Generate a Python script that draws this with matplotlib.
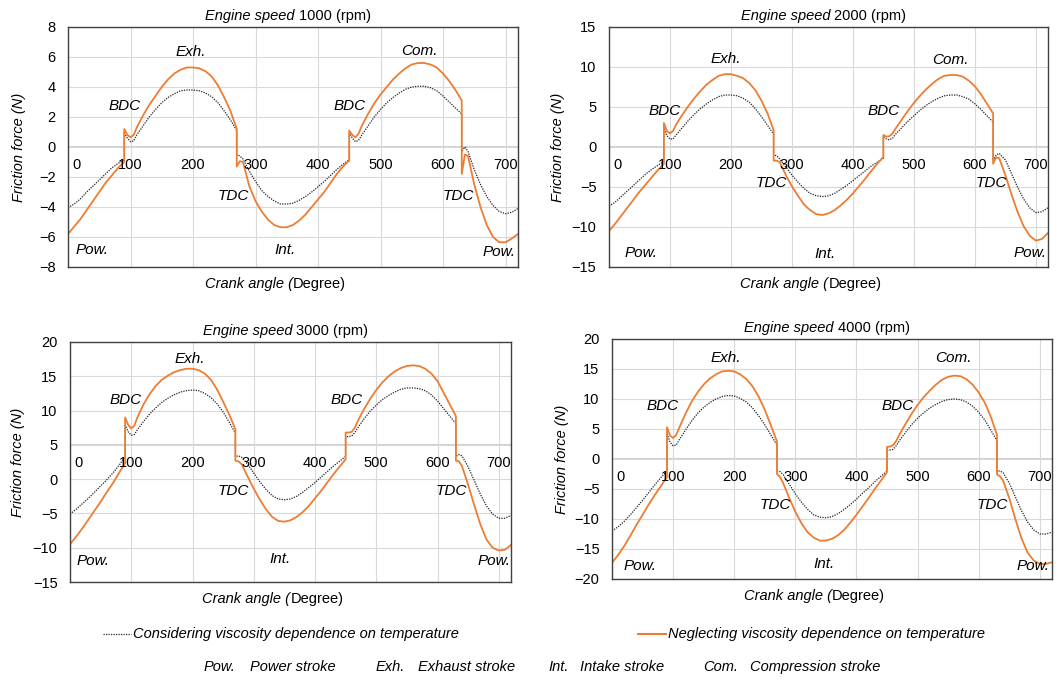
import matplotlib
matplotlib.use("Agg")
import matplotlib.pyplot as plt
from matplotlib.lines import Line2D
from matplotlib.transforms import blended_transform_factory

plt.rcParams['font.family'] = ['Liberation Sans', 'DejaVu Sans']

# crank angle (deg) - repeated angles are the jumps at BDC / TDC
angle = [0, 10, 20, 30, 40, 50, 60, 70, 80, 90,
         90, 95, 100, 105, 110, 120, 130, 140, 150, 160, 170, 180, 190, 200, 210, 220, 230, 240, 250, 260, 270,
         270, 275, 280, 290, 300, 310, 320, 330, 340, 350, 360, 370, 380, 390, 400, 410, 420, 430, 440, 450,
         450, 455, 460, 465, 470, 480, 490, 500, 510, 520, 530, 540, 550, 560, 570, 580, 590, 600, 610, 620, 630,
         630, 635, 640, 650, 660, 670, 680, 690, 700, 710, 720]

# Neglecting viscosity dependence on temperature (N)
neg_1000 = [-5.8, -5.3, -4.8, -4.2, -3.6, -3.0, -2.4, -1.9, -1.4, -1.0,
            1.2, 0.8, 0.65, 0.8, 1.3, 2.1, 2.8, 3.4, 4.0, 4.5, 4.9, 5.15, 5.3, 5.3, 5.25, 5.05, 4.7, 4.1, 3.3, 2.4, 1.2,
            -1.3, -0.95, -1.0, -2.6, -3.6, -4.3, -4.85, -5.2, -5.35, -5.35, -5.2, -4.9, -4.5, -4.0, -3.5, -3.0, -2.4, -1.8, -1.3, -0.9,
            1.1, 0.8, 0.65, 0.9, 1.4, 2.2, 2.9, 3.5, 4.0, 4.5, 4.9, 5.25, 5.5, 5.6, 5.6, 5.5, 5.3, 4.9, 4.4, 3.8, 3.1,
            -1.8, -0.5, -0.6, -2.5, -4.0, -5.2, -6.0, -6.35, -6.35, -6.1, -5.8]
neg_2000 = [-10.5, -9.6, -8.6, -7.6, -6.6, -5.6, -4.7, -3.8, -2.9, -2.1,
            3.0, 2.0, 1.7, 2.0, 2.8, 4.0, 5.1, 6.1, 7.0, 7.8, 8.4, 8.9, 9.1, 9.1, 8.9, 8.6, 8.0, 7.1, 5.8, 4.2, 2.1,
            -1.7, -1.7, -1.9, -3.5, -4.9, -6.1, -7.2, -7.9, -8.4, -8.5, -8.3, -7.9, -7.3, -6.6, -5.8, -4.9, -4.0, -3.0, -2.1, -1.25,
            1.5, 1.3, 1.35, 1.7, 2.3, 3.4, 4.5, 5.5, 6.4, 7.2, 7.9, 8.5, 8.9, 9.0, 9.0, 8.8, 8.3, 7.6, 6.6, 5.4, 4.2,
            -2.1, -1.3, -1.4, -3.5, -5.9, -8.1, -9.9, -11.1, -11.7, -11.5, -10.75]
neg_3000 = [-9.5, -8.4, -7.2, -5.9, -4.6, -3.3, -1.9, -0.6, 0.9, 2.3,
            9.0, 7.9, 7.4, 7.8, 9.0, 10.9, 12.4, 13.6, 14.5, 15.1, 15.6, 15.9, 16.1, 16.1, 15.9, 15.4, 14.5, 13.1, 11.3, 9.4, 7.3,
            2.7, 2.6, 2.2, 0.4, -1.4, -3.0, -4.4, -5.5, -6.1, -6.2, -6.0, -5.5, -4.8, -3.9, -2.8, -1.7, -0.5, 0.7, 1.8, 2.9,
            6.8, 6.8, 6.9, 7.5, 8.5, 10.2, 11.7, 13.0, 14.1, 15.0, 15.7, 16.2, 16.5, 16.6, 16.5, 16.1, 15.4, 14.3, 12.6, 10.9, 9.2,
            2.7, 2.6, 1.9, -0.8, -3.8, -6.6, -8.8, -10.0, -10.4, -10.3, -9.6]
neg_4000 = [-17.3, -16.0, -14.5, -12.8, -11.0, -9.3, -7.6, -6.0, -4.5, -3.0,
            5.3, 3.9, 3.5, 4.0, 5.2, 7.5, 9.5, 11.1, 12.4, 13.4, 14.1, 14.6, 14.7, 14.6, 14.1, 13.3, 12.1, 10.4, 8.2, 5.6, 2.9,
            -2.5, -3.0, -4.0, -6.5, -8.8, -10.7, -12.2, -13.1, -13.6, -13.6, -13.3, -12.7, -11.8, -10.6, -9.3, -7.9, -6.5, -5.0, -3.6, -2.2,
            2.0, 2.1, 2.3, 3.0, 4.0, 5.8, 7.5, 9.0, 10.3, 11.4, 12.4, 13.2, 13.7, 13.9, 13.8, 13.3, 12.4, 11.1, 9.4, 7.0, 4.0,
            -2.6, -2.9, -3.6, -6.5, -10.0, -13.2, -15.6, -16.9, -17.5, -17.5, -17.2]

# Considering viscosity dependence on temperature (N)
con_1000 = [-4.05, -3.8, -3.45, -3.0, -2.6, -2.2, -1.8, -1.4, -1.1, -0.85,
            0.9, 0.6, 0.35, 0.4, 0.8, 1.4, 2.0, 2.5, 2.95, 3.3, 3.55, 3.75, 3.8, 3.8, 3.75, 3.6, 3.35, 2.95, 2.4, 1.8, 1.1,
            -0.5, -0.6, -0.8, -1.6, -2.3, -2.9, -3.3, -3.6, -3.8, -3.8, -3.75, -3.55, -3.3, -3.0, -2.65, -2.3, -1.9, -1.5, -1.15, -0.85,
            0.9, 0.6, 0.35, 0.45, 0.8, 1.4, 2.0, 2.5, 2.95, 3.3, 3.6, 3.85, 4.0, 4.05, 4.05, 3.95, 3.75, 3.4, 3.0, 2.6, 2.2,
            -0.3, 0.0, -0.3, -1.5, -2.5, -3.3, -3.9, -4.3, -4.45, -4.35, -4.1]
con_2000 = [-7.4, -6.9, -6.2, -5.5, -4.8, -4.1, -3.4, -2.8, -2.3, -1.8,
            2.5, 1.4, 1.0, 1.0, 1.5, 2.4, 3.3, 4.1, 4.8, 5.4, 5.9, 6.3, 6.5, 6.5, 6.4, 6.1, 5.6, 4.8, 3.8, 2.7, 1.6,
            -1.0, -1.1, -1.5, -2.5, -3.5, -4.4, -5.2, -5.8, -6.1, -6.2, -6.1, -5.8, -5.3, -4.8, -4.2, -3.6, -3.0, -2.4, -1.9, -1.4,
            1.3, 1.0, 0.9, 1.1, 1.6, 2.4, 3.2, 3.9, 4.6, 5.2, 5.7, 6.1, 6.4, 6.5, 6.5, 6.3, 6.0, 5.4, 4.7, 3.9, 3.1,
            -1.7, -1.0, -0.8, -1.6, -3.3, -5.0, -6.5, -7.6, -8.2, -8.1, -7.6]
con_3000 = [-5.1, -4.4, -3.6, -2.8, -1.9, -1.0, -0.1, 0.9, 2.0, 3.3,
            8.0, 6.9, 6.4, 6.5, 7.2, 8.4, 9.5, 10.4, 11.2, 11.8, 12.3, 12.7, 12.9, 13.0, 12.9, 12.5, 11.9, 11.0, 9.8, 8.3, 6.7,
            3.3, 3.4, 3.2, 2.2, 0.9, -0.4, -1.5, -2.4, -2.9, -3.0, -2.9, -2.5, -1.9, -1.2, -0.5, 0.3, 1.1, 1.9, 2.6, 3.3,
            6.2, 6.2, 6.3, 6.8, 7.5, 8.8, 9.9, 10.8, 11.6, 12.2, 12.7, 13.1, 13.3, 13.3, 13.2, 12.9, 12.3, 11.4, 10.3, 9.2, 8.1,
            3.3, 3.6, 3.4, 1.8, -0.2, -2.2, -3.9, -5.1, -5.7, -5.7, -5.3]
con_4000 = [-12.0, -11.3, -10.4, -9.3, -8.1, -6.9, -5.6, -4.3, -3.1, -2.0,
            4.3, 2.8, 2.2, 2.3, 3.2, 4.8, 6.3, 7.6, 8.6, 9.4, 10.0, 10.4, 10.6, 10.5, 10.1, 9.5, 8.5, 7.2, 5.7, 4.0, 2.3,
            -2.0, -2.1, -2.6, -4.2, -5.8, -7.2, -8.4, -9.3, -9.7, -9.8, -9.6, -9.1, -8.4, -7.6, -6.7, -5.7, -4.8, -3.8, -2.9, -2.0,
            1.5, 1.5, 1.6, 2.2, 3.0, 4.4, 5.7, 6.8, 7.7, 8.5, 9.1, 9.6, 9.9, 10.0, 9.9, 9.5, 8.8, 7.8, 6.5, 4.8, 3.0,
            -2.0, -2.0, -2.3, -4.0, -6.3, -8.6, -10.5, -11.8, -12.5, -12.5, -12.2]

speeds = ['1000', '2000', '3000', '4000']
y_ticks = [[-8, -6, -4, -2, 0, 2, 4, 6, 8],
           [-15, -10, -5, 0, 5, 10, 15],
           [-15, -10, -5, 0, 5, 10, 15, 20],
           [-20, -15, -10, -5, 0, 5, 10, 15, 20]]
x_ticks = [0, 100, 200, 300, 400, 500, 600, 700]
# value where the horizontal axis (and its labels) crosses
x_cross = [0, 0, 5, 0]

# stroke labels: (text, crank angle, fraction of axes height)
labels = [
    [('BDC', 91, 0.67), ('Exh.', 196, 0.895), ('BDC', 450, 0.67), ('Com.', 562, 0.9),
     ('TDC', 265, 0.294), ('TDC', 624, 0.294), ('Pow.', 38, 0.07), ('Int.', 347, 0.072), ('Pow.', 690, 0.063)],
    [('BDC', 91, 0.65), ('Exh.', 191, 0.865), ('BDC', 451, 0.65), ('Com.', 560, 0.864),
     ('TDC', 266, 0.35), ('TDC', 627, 0.35), ('Pow.', 53, 0.06), ('Int.', 354, 0.053), ('Pow.', 690, 0.06)],
    [('BDC', 90, 0.76), ('Exh.', 195, 0.93), ('BDC', 452, 0.76),
     ('TDC', 266, 0.38), ('TDC', 622, 0.38), ('Pow.', 37, 0.086), ('Int.', 343, 0.096), ('Pow.', 693, 0.086)],
    [('BDC', 83, 0.72), ('Exh.', 186, 0.92), ('BDC', 467, 0.72), ('Com.', 559, 0.92),
     ('TDC', 267, 0.31), ('TDC', 623, 0.31), ('Pow.', 46, 0.055), ('Int.', 347, 0.064), ('Pow.', 689, 0.055)],
]

neglect = [neg_1000, neg_2000, neg_3000, neg_4000]
consider = [con_1000, con_2000, con_3000, con_4000]

W, H = 1062, 680
fig = plt.figure(figsize=(W / 100, H / 100), dpi=100)

# axes boxes in pixels: left, top, right, bottom
boxes = [(68, 27, 518, 267), (609, 27, 1048, 267), (70, 342, 511, 582), (612, 339, 1052, 579)]
ylab_x = [-0.109, -0.116, -0.118, -0.114]

orange = '#ED7D31'

for i in range(4):
    l, t, r, b = boxes[i]
    ax = fig.add_axes([l / W, 1 - b / H, (r - l) / W, (b - t) / H])
    ax.plot(angle, consider[i], color='#222222', lw=0.9, ls=(0, (1, 1)))
    ax.plot(angle, neglect[i], color=orange, lw=1.3)

    ax.set_xlim(0, 720)
    ax.set_ylim(y_ticks[i][0], y_ticks[i][-1])
    ax.set_xticks(x_ticks)
    ax.set_yticks(y_ticks[i])
    ax.grid(True, color='#d9d9d9', lw=0.8)
    ax.set_axisbelow(True)
    ax.tick_params(axis='x', length=0, labelbottom=False)
    ax.tick_params(axis='y', length=0, pad=9, labelsize=10.5)
    for s in ax.spines.values():
        s.set_color('#404040')
        s.set_linewidth(1.0)
    ax.axhline(x_cross[i], color='#cfcfcf', lw=1.4, zorder=0.5)

    # x tick labels sit under the axis crossing line
    yc = x_cross[i]
    for xt in x_ticks:
        if xt == 0:
            ax.annotate('0', (0, yc), xytext=(3, -8), textcoords='offset points',
                        ha='left', va='top', fontsize=10.5)
        else:
            ax.annotate(str(xt), (xt, yc), xytext=(0, -8), textcoords='offset points',
                        ha='center', va='top', fontsize=10.5)

    tr = blended_transform_factory(ax.transData, ax.transAxes)
    for txt, xa, yf in labels[i]:
        ax.text(xa, yf, txt, transform=tr, ha='center', va='center',
                fontsize=11, style='italic')

    # title: italic words + upright value
    ax.text(0.513, 1.015, 'Engine speed ', transform=ax.transAxes, ha='right', va='bottom',
            fontsize=10.5, style='italic')
    ax.text(0.513, 1.015, speeds[i] + ' (rpm)', transform=ax.transAxes, ha='left', va='bottom',
            fontsize=10.5)

    # x label
    ax.text(0.5, -0.04, 'Crank angle (', transform=ax.transAxes, ha='right', va='top',
            fontsize=10.5, style='italic')
    ax.text(0.5, -0.04, 'Degree)', transform=ax.transAxes, ha='left', va='top', fontsize=10.5)

    ax.text(ylab_x[i], 0.5, 'Friction force (N)', transform=ax.transAxes, rotation=90,
            ha='center', va='center', fontsize=10.5, style='italic')

# legend rows at the bottom
y1 = 1 - 634 / H
fig.add_artist(Line2D([103 / W, 131 / W], [y1, y1], transform=fig.transFigure,
                      color='#222222', lw=0.9, ls=(0, (1, 1))))
fig.text(133 / W, y1, 'Considering viscosity dependence on temperature', ha='left', va='center',
         fontsize=10.5, style='italic')
fig.add_artist(Line2D([638 / W, 666 / W], [y1, y1], transform=fig.transFigure,
                      color=orange, lw=1.5))
fig.text(668 / W, y1, 'Neglecting viscosity dependence on temperature', ha='left', va='center',
         fontsize=10.5, style='italic')

y2 = 1 - 667 / H
row2 = [('Pow.', 204), ('Power stroke', 250), ('Exh.', 376), ('Exhaust stroke', 418),
        ('Int.', 548), ('Intake stroke', 580), ('Com.', 703), ('Compression stroke', 750)]
for txt, px in row2:
    fig.text(px / W, y2, txt, ha='left', va='center', fontsize=10.5, style='italic')

fig.savefig('out.png', dpi=100)
